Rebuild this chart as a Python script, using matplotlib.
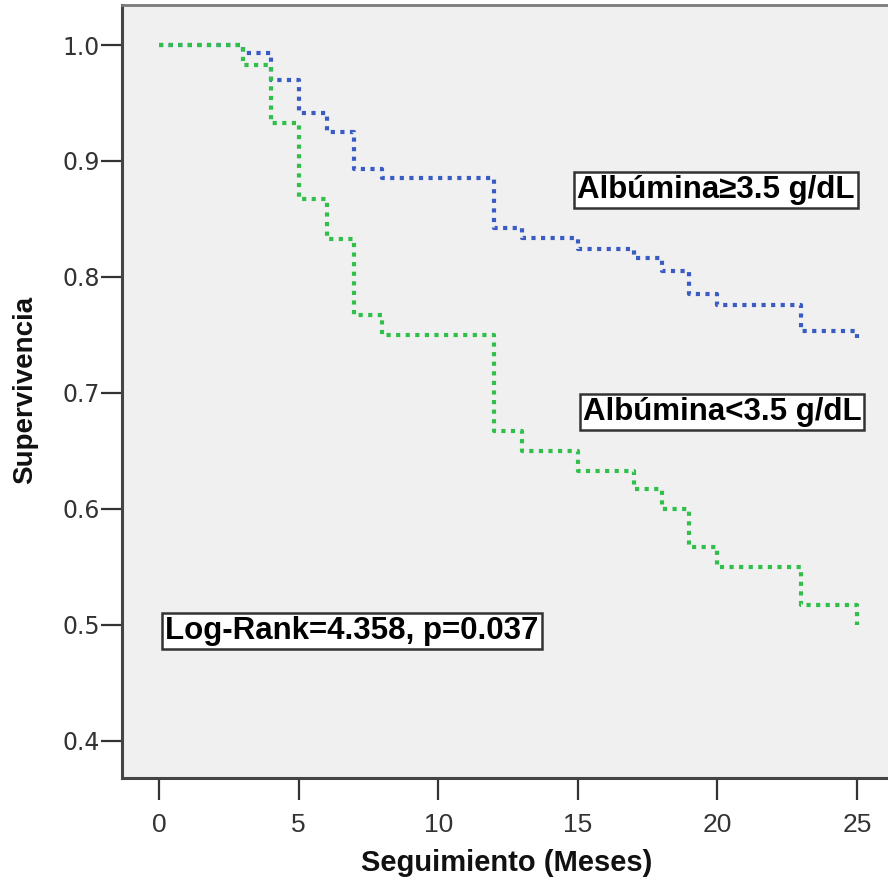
import matplotlib
matplotlib.use("Agg")
import matplotlib.pyplot as plt

# Data
times = [0, 3, 4, 5, 6, 7, 8, 12, 13, 15, 17, 18, 19, 20, 23, 25]
surv_high = [1.0, 0.993, 0.970, 0.941, 0.925, 0.893, 0.885, 0.842, 0.834,
             0.824, 0.816, 0.805, 0.785, 0.776, 0.753, 0.747]
surv_low = [1.0, 0.983, 0.933, 0.867, 0.833, 0.767, 0.750, 0.667, 0.650,
            0.633, 0.617, 0.600, 0.567, 0.550, 0.517, 0.500]
xticks = [0, 5, 10, 15, 20, 25]
yticks = [0.4, 0.5, 0.6, 0.7, 0.8, 0.9, 1.0]
ytick_labels = ["0.4", "0.5", "0.6", "0.7", "0.8", "0.9", "1.0"]
label_high = "Albúmina≥3.5 g/dL"
label_low = "Albúmina<3.5 g/dL"
stat_text = "Log-Rank=4.358, p=0.037"

W = H = 888
fig = plt.figure(figsize=(8.88, 8.88), dpi=100)
fig.patch.set_facecolor("white")
ax = fig.add_axes([122 / W, 1 - 778 / H, (W - 122) / W, (778 - 5) / H])
ax.set_facecolor("#F0F0F0")

ls = (0, (1.0, 1.3))
ax.step(times, surv_high, where="post", color="#3A5BC4", lw=3.0,
        linestyle=ls, dash_capstyle="butt")
ax.step(times, surv_low, where="post", color="#30C04A", lw=3.0,
        linestyle=ls, dash_capstyle="butt")

ax.set_xlim(-1.326, 26.11)
ax.set_ylim(0.368, 1.0345)
ax.set_xticks(xticks)
ax.set_xticklabels([str(t) for t in xticks], fontfamily="Liberation Sans",
                   fontsize=19, color="#333333")
ax.set_yticks(yticks)
ax.set_yticklabels(ytick_labels, fontfamily="DejaVu Sans", fontsize=17,
                   color="#333333")
ax.tick_params(axis="both", direction="out", width=1.6, color="#333333")
ax.tick_params(axis="y", length=15, pad=1)
ax.tick_params(axis="x", length=16, pad=9)

for s in ["left", "bottom"]:
    ax.spines[s].set_color("#444444")
    ax.spines[s].set_linewidth(2.2)
ax.spines["top"].set_color("#7A7A7A")
ax.spines["top"].set_linewidth(2.0)
ax.spines["right"].set_visible(False)

ax.set_ylabel("Supervivencia", fontfamily="Liberation Sans", fontweight="bold",
              fontsize=20, color="#111111")
ax.yaxis.set_label_coords((38 - 122) / 766, (778 - 390) / 773)
ax.set_xlabel("Seguimiento (Meses)", fontfamily="Liberation Sans",
              fontweight="bold", fontsize=21, color="#111111")
ax.xaxis.set_label_coords((507 - 122) / 766, (778 - 849) / 773)

box = dict(boxstyle="square,pad=0.1", facecolor="white", edgecolor="#333333",
           linewidth=1.8)
for txt, cx, cy in [(label_high, 716, 190), (label_low, 722, 412),
                    (stat_text, 352, 631)]:
    fig.text(cx / W, 1 - cy / H, txt, ha="center", va="center",
             fontfamily="Liberation Sans", fontweight="bold", fontsize=22.5,
             color="black", bbox=box)

fig.savefig("out.png", dpi=100, facecolor=fig.get_facecolor())
